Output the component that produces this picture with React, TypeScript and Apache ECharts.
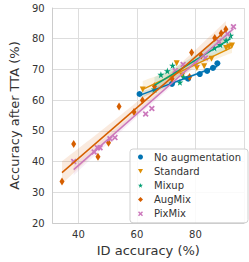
import React, { useEffect, useRef } from "react";
import * as echarts from "echarts";

const seriesNames = ["No augmentation", "Standard", "Mixup", "AugMix", "PixMix"];
const colors = ["#0173b2", "#de8f05", "#029e73", "#d55e00", "#cc78bc"];

const noAugX = [60.9, 72.0, 77.5, 81.5, 84.0, 86.0, 87.5];
const noAugY = [62.0, 65.3, 67.0, 68.5, 69.5, 70.5, 72.0];

const standardX = [62.0, 73.6, 75.5, 80.5, 83.0, 85.5, 90.5, 91.5, 92.5];
const standardY = [63.5, 72.0, 68.0, 70.5, 71.0, 73.5, 77.0, 77.5, 77.8];

const mixupX = [66.0, 68.2, 70.4, 72.2, 74.7, 76.0, 86.5, 88.5, 90.5, 92.0];
const mixupY = [63.5, 68.3, 69.5, 71.3, 65.8, 67.5, 77.0, 78.0, 79.5, 81.0];

const augmixX = [34.4, 38.4, 46.7, 50.3, 53.9, 59.0, 61.9, 66.0, 72.0, 78.0, 78.7, 82.0, 86.6, 88.8, 90.4];
const augmixY = [33.5, 45.7, 41.6, 46.1, 57.9, 56.1, 60.0, 64.5, 67.0, 67.5, 75.5, 74.5, 80.2, 81.8, 83.1];

const pixmixX = [38.4, 45.4, 46.5, 47.4, 50.8, 52.5, 63.0, 65.1, 73.1, 75.8, 80.0, 83.4, 88.0, 91.0, 93.0];
const pixmixY = [40.0, 43.1, 44.5, 44.5, 47.4, 47.8, 55.5, 57.3, 69.6, 71.6, 72.0, 73.7, 79.0, 81.5, 83.9];

const yTicks = [20, 30, 40, 50, 60, 70, 80, 90];

const STAR = "path://M50,0 L61,35 L98,35 L68,57 L79,91 L50,70 L21,91 L32,57 L2,35 L39,35 Z";
const XMARK = "path://M0,20 L20,0 L50,30 L80,0 L100,20 L70,50 L100,80 L80,100 L50,70 L20,100 L0,80 L30,50 Z";
const TRIDOWN = "path://M0,0 L100,0 L50,90 Z";

const groups = [
  { xs: noAugX, ys: noAugY, symbol: "circle", size: 6 },
  { xs: standardX, ys: standardY, symbol: TRIDOWN, size: 6 },
  { xs: mixupX, ys: mixupY, symbol: STAR, size: 7 },
  { xs: augmixX, ys: augmixY, symbol: "diamond", size: [5, 8] },
  { xs: pixmixX, ys: pixmixY, symbol: XMARK, size: 6 },
];

function fit(xs: number[], ys: number[]) {
  const n = xs.length;
  const mx = xs.reduce((a, b) => a + b, 0) / n;
  const my = ys.reduce((a, b) => a + b, 0) / n;
  let sxx = 0, sxy = 0;
  for (let i = 0; i < n; i++) {
    sxx += (xs[i] - mx) ** 2;
    sxy += (xs[i] - mx) * (ys[i] - my);
  }
  const b = sxy / sxx;
  const a = my - b * mx;
  let sse = 0;
  for (let i = 0; i < n; i++) sse += (ys[i] - (a + b * xs[i])) ** 2;
  const s = Math.sqrt(sse / (n - 2));
  const t = 2.1;
  const x0 = Math.min(...xs), x1 = Math.max(...xs);
  const band: number[][] = [];
  const upper: number[][] = [];
  const lower: number[][] = [];
  const steps = 40;
  for (let k = 0; k <= steps; k++) {
    const x = x0 + ((x1 - x0) * k) / steps;
    const se = s * Math.sqrt(1 / n + (x - mx) ** 2 / sxx);
    upper.push([x, a + b * x + t * se]);
    lower.push([x, a + b * x - t * se]);
  }
  band.push(...upper, ...lower.reverse());
  return { line: [[x0, a + b * x0], [x1, a + b * x1]], band };
}

export default function App() {
  const ref = useRef<HTMLDivElement>(null);
  useEffect(() => {
    if (!ref.current) return;
    const chart = echarts.init(ref.current, null, { renderer: "svg" });
    const series: any[] = [];
    groups.forEach((g, i) => {
      const f = fit(g.xs, g.ys);
      series.push({
        type: "custom",
        name: seriesNames[i] + " band",
        silent: true,
        clip: true,
        z: 1,
        data: [[g.xs[0], g.ys[0]]],
        renderItem: (params: any, api: any) => ({
          type: "polygon",
          shape: { points: f.band.map((p) => api.coord(p)) },
          style: { fill: colors[i], opacity: 0.13 },
        }),
      });
      series.push({
        type: "scatter",
        name: seriesNames[i],
        data: g.xs.map((x, k) => [x, g.ys[k]]),
        symbol: g.symbol,
        symbolSize: g.size,
        itemStyle: { color: colors[i], opacity: 1 },
        z: 3,
      });
      series.push({
        type: "line",
        name: seriesNames[i] + " fit",
        data: f.line,
        showSymbol: false,
        symbol: "none",
        lineStyle: { color: colors[i], width: 1.5 },
        z: 4,
        silent: true,
      });
    });
    chart.setOption({
      animation: false,
      textStyle: { fontFamily: "DejaVu Sans" },
      grid: { left: 43, right: 5, top: 8, bottom: 38, containLabel: false },
      xAxis: {
        type: "value",
        min: 31.2,
        max: 96.6,
        splitNumber: 3,
        name: "ID accuracy (%)",
        nameLocation: "middle",
        nameGap: 21,
        nameTextStyle: { fontSize: 13, color: "#333", fontFamily: "DejaVu Sans" },
        axisLine: { show: true, lineStyle: { color: "#cccccc", width: 1 } },
        axisTick: { show: false },
        axisLabel: { showMinLabel: false, showMaxLabel: false, fontSize: 10, color: "#333", margin: 6, fontFamily: "DejaVu Sans" },
        splitLine: { show: true, lineStyle: { color: "#dddddd", width: 1 } },
      },
      yAxis: {
        type: "value",
        min: yTicks[0],
        max: yTicks[yTicks.length - 1],
        interval: 10,
        name: "Accuracy after TTA (%)",
        nameLocation: "middle",
        nameGap: 28,
        nameTextStyle: { fontSize: 13, color: "#333", fontFamily: "DejaVu Sans" },
        axisLine: { show: true, lineStyle: { color: "#cccccc", width: 1 } },
        axisTick: { show: false },
        axisLabel: { fontSize: 10, color: "#333", margin: 8, fontFamily: "DejaVu Sans" },
        splitLine: { show: true, lineStyle: { color: "#dddddd", width: 1 } },
      },
      legend: {
        orient: "vertical",
        left: 130,
        top: 149,
        width: 113,
        padding: [2, 7, 3, 8],
        itemGap: 2.2,
        itemWidth: 5,
        itemHeight: 5,
        backgroundColor: "rgba(255,255,255,0.85)",
        borderColor: "#d0d0d0",
        borderWidth: 1,
        borderRadius: 3,
        data: seriesNames.map((n, i) => ({ name: n, icon: groups[i].symbol })),
        textStyle: { fontSize: 10, color: "#333", lineHeight: 12, padding: [0, 0, 0, 6], fontFamily: "DejaVu Sans" },
      },
      series,
    });
    return () => chart.dispose();
  }, []);
  return <div ref={ref} style={{ width: 249, height: 262, position: "absolute", left: 0, top: 0 }} />;
}
